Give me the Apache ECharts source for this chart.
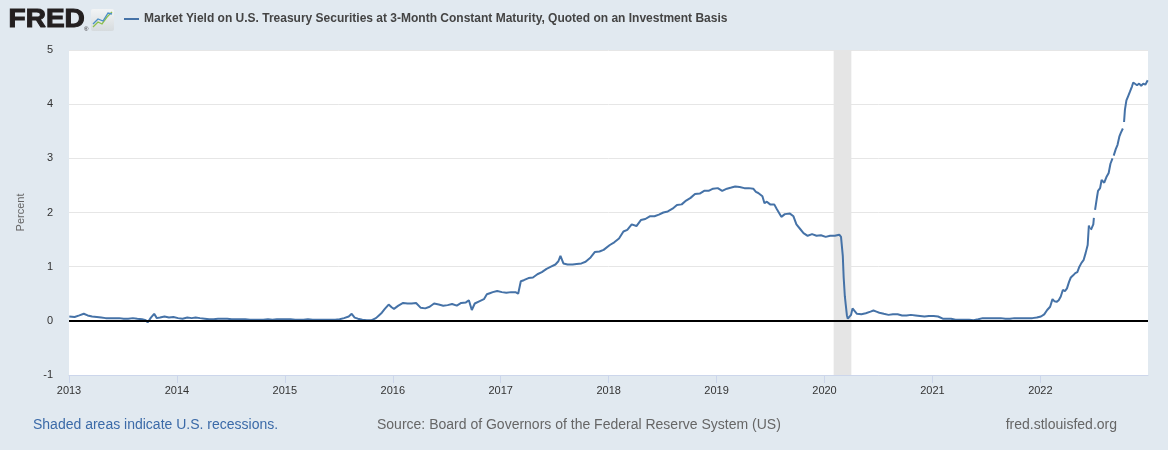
<!DOCTYPE html>
<html>
<head>
<meta charset="utf-8">
<script src="https://cdn.jsdelivr.net/npm/echarts@6/dist/echarts.min.js"></script>
<style>
html,body{margin:0;padding:0;background:#e1e9f0;}
#chart{width:1168px;height:450px;}
</style>
</head>
<body>
<div id="chart"></div>
<script>
// ---- data (date, percent) ----
const y2013 = [['2013-01-02',0.08],['2013-01-20',0.07],['2013-02-05',0.10],['2013-02-20',0.13],['2013-03-05',0.10],['2013-03-20',0.08],['2013-04-05',0.07],['2013-04-20',0.06],['2013-05-05',0.05],['2013-05-20',0.05],['2013-06-05',0.05],['2013-06-20',0.05],['2013-07-05',0.04],['2013-07-20',0.04],['2013-08-05',0.05],['2013-08-20',0.04],['2013-09-05',0.03],['2013-09-18',0.01],['2013-09-24',-0.03],['2013-10-05',0.06],['2013-10-16',0.13],['2013-10-25',0.05],['2013-11-05',0.06],['2013-11-20',0.08],['2013-12-05',0.06],['2013-12-20',0.07]];
const y2014 = [['2014-01-05',0.05],['2014-01-20',0.04],['2014-02-05',0.06],['2014-02-20',0.05],['2014-03-05',0.06],['2014-03-20',0.05],['2014-04-05',0.04],['2014-04-20',0.03],['2014-05-05',0.03],['2014-05-20',0.04],['2014-06-05',0.04],['2014-06-20',0.04],['2014-07-05',0.03],['2014-07-20',0.03],['2014-08-05',0.03],['2014-08-20',0.03],['2014-09-05',0.02],['2014-09-20',0.02],['2014-10-05',0.02],['2014-10-20',0.02],['2014-11-05',0.03],['2014-11-20',0.02],['2014-12-05',0.03],['2014-12-20',0.03]];
const y2015 = [['2015-01-05',0.03],['2015-01-20',0.03],['2015-02-05',0.02],['2015-02-20',0.02],['2015-03-05',0.02],['2015-03-20',0.03],['2015-04-05',0.02],['2015-04-20',0.02],['2015-05-05',0.02],['2015-05-20',0.02],['2015-06-05',0.02],['2015-06-20',0.02],['2015-07-05',0.03],['2015-07-20',0.05],['2015-08-05',0.08],['2015-08-15',0.13],['2015-08-25',0.06],['2015-09-05',0.04],['2015-09-20',0.02],['2015-10-05',0.01],['2015-10-20',0.01],['2015-11-05',0.05],['2015-11-15',0.10],['2015-11-25',0.15],['2015-12-05',0.22],['2015-12-18',0.30],['2015-12-28',0.25]];
const y2016 = [['2016-01-05',0.22],['2016-01-20',0.28],['2016-02-05',0.33],['2016-02-20',0.32],['2016-03-05',0.32],['2016-03-20',0.33],['2016-04-05',0.24],['2016-04-20',0.23],['2016-05-05',0.26],['2016-05-20',0.32],['2016-06-05',0.30],['2016-06-20',0.28],['2016-07-05',0.29],['2016-07-20',0.31],['2016-08-05',0.28],['2016-08-20',0.33],['2016-09-05',0.34],['2016-09-15',0.38],['2016-09-25',0.20],['2016-10-05',0.32],['2016-10-20',0.36],['2016-11-05',0.40],['2016-11-15',0.49],['2016-11-25',0.51],['2016-12-05',0.53],['2016-12-20',0.55]];
const y2017 = [['2017-01-05',0.53],['2017-01-20',0.52],['2017-02-05',0.53],['2017-02-20',0.53],['2017-03-01',0.50],['2017-03-10',0.73],['2017-03-20',0.75],['2017-04-05',0.79],['2017-04-20',0.80],['2017-05-05',0.86],['2017-05-20',0.90],['2017-06-05',0.96],['2017-06-20',1.00],['2017-07-05',1.04],['2017-07-15',1.10],['2017-07-22',1.20],['2017-08-01',1.06],['2017-08-15',1.04],['2017-09-01',1.04],['2017-09-15',1.05],['2017-10-01',1.06],['2017-10-15',1.09],['2017-11-01',1.17],['2017-11-15',1.27],['2017-12-01',1.28],['2017-12-15',1.31]];
const y2018 = [['2018-01-05',1.40],['2018-01-20',1.45],['2018-02-05',1.52],['2018-02-20',1.65],['2018-03-05',1.68],['2018-03-20',1.78],['2018-04-05',1.75],['2018-04-20',1.86],['2018-05-05',1.88],['2018-05-20',1.93],['2018-06-05',1.93],['2018-06-20',1.96],['2018-07-05',2.00],['2018-07-20',2.02],['2018-08-05',2.07],['2018-08-20',2.14],['2018-09-05',2.15],['2018-09-20',2.22],['2018-10-05',2.27],['2018-10-20',2.34],['2018-11-05',2.35],['2018-11-20',2.40],['2018-12-05',2.40],['2018-12-20',2.44]];
const y2019 = [['2019-01-05',2.45],['2019-01-20',2.40],['2019-02-05',2.44],['2019-02-20',2.46],['2019-03-05',2.48],['2019-03-20',2.47],['2019-04-05',2.45],['2019-04-20',2.45],['2019-05-05',2.44],['2019-05-14',2.38],['2019-05-22',2.36],['2019-06-05',2.30],['2019-06-12',2.17],['2019-06-20',2.20],['2019-07-01',2.15],['2019-07-15',2.15],['2019-07-24',2.06],['2019-08-08',1.92],['2019-08-20',1.97],['2019-09-06',1.98],['2019-09-18',1.93],['2019-09-28',1.78],['2019-10-10',1.70],['2019-10-22',1.62],['2019-11-05',1.57],['2019-11-20',1.60],['2019-12-05',1.57],['2019-12-20',1.58]];
const y2020 = [['2020-01-05',1.55],['2020-01-20',1.57],['2020-02-05',1.57],['2020-02-20',1.59],['2020-02-26',1.55],['2020-03-03',1.20],['2020-03-06',0.80],['2020-03-10',0.45],['2020-03-13',0.30],['2020-03-17',0.10],['2020-03-20',0.04],['2020-03-25',0.01],['2020-03-31',0.11],['2020-04-05',0.23],['2020-04-10',0.20],['2020-04-20',0.13],['2020-05-05',0.12],['2020-05-20',0.14],['2020-06-05',0.17],['2020-06-15',0.19],['2020-06-25',0.17],['2020-07-05',0.15],['2020-07-20',0.13],['2020-08-05',0.11],['2020-08-20',0.12],['2020-09-05',0.12],['2020-09-20',0.10],['2020-10-05',0.10],['2020-10-20',0.11],['2020-11-05',0.10],['2020-11-20',0.09],['2020-12-05',0.08],['2020-12-20',0.09]];
const y2021 = [['2021-01-05',0.09],['2021-01-20',0.08],['2021-02-05',0.04],['2021-02-20',0.04],['2021-03-05',0.04],['2021-03-20',0.02],['2021-04-05',0.02],['2021-04-20',0.02],['2021-05-05',0.02],['2021-05-20',0.01],['2021-06-05',0.03],['2021-06-20',0.05],['2021-07-05',0.05],['2021-07-20',0.05],['2021-08-05',0.05],['2021-08-20',0.05],['2021-09-05',0.04],['2021-09-20',0.04],['2021-10-05',0.05],['2021-10-20',0.05],['2021-11-05',0.05],['2021-11-20',0.05],['2021-12-05',0.05],['2021-12-20',0.06]];
const y2022 = [['2022-01-03',0.08],['2022-01-14',0.12],['2022-01-24',0.20],['2022-02-03',0.26],['2022-02-11',0.40],['2022-02-18',0.36],['2022-02-25',0.35],['2022-03-04',0.38],['2022-03-11',0.45],['2022-03-18',0.57],['2022-03-25',0.55],['2022-04-01',0.60],['2022-04-08',0.72],['2022-04-14',0.80],['2022-04-22',0.84],['2022-04-29',0.88],['2022-05-06',0.90],['2022-05-13',1.00],['2022-05-20',1.07],['2022-05-27',1.12],['2022-06-03',1.25],['2022-06-10',1.40],['2022-06-14',1.76],['2022-06-17',1.70],['2022-06-20',null],['2022-06-21',1.68],['2022-06-24',1.70],['2022-06-29',1.78],['2022-07-01',1.90],['2022-07-04',null],['2022-07-05',2.05],['2022-07-12',2.30],['2022-07-15',2.40],['2022-07-22',2.45],['2022-07-27',2.60],['2022-08-05',2.55],['2022-08-12',2.65],['2022-08-20',2.73],['2022-08-26',2.90],['2022-09-02',3.00],['2022-09-05',null],['2022-09-06',3.05],['2022-09-13',3.17],['2022-09-19',3.25],['2022-09-25',3.40],['2022-09-30',3.47],['2022-10-07',3.55],['2022-10-10',null],['2022-10-11',3.67],['2022-10-14',3.90],['2022-10-19',4.07],['2022-10-25',4.15],['2022-10-31',4.23],['2022-11-07',4.33],['2022-11-11',4.40],['2022-11-17',4.40],['2022-11-24',4.35],['2022-12-01',4.38],['2022-12-08',4.34],['2022-12-15',4.38],['2022-12-22',4.36],['2022-12-30',4.44]];
const recession = ['2020-02-01', '2020-04-01'];
const xRange = ['2013-01-01', '2022-12-31'];
const yTicks = { min: -1, max: 5, step: 1 };

const seriesTitle = 'Market Yield on U.S. Treasury Securities at 3-Month Constant Maturity, Quoted on an Investment Basis';

function toYear(s) {
  const p = s.split('-').map(Number);
  const a = Date.UTC(p[0], 0, 1), b = Date.UTC(p[0] + 1, 0, 1);
  return p[0] + (Date.UTC(p[0], p[1] - 1, p[2]) - a) / (b - a);
}
const all = [].concat(y2013, y2014, y2015, y2016, y2017, y2018, y2019, y2020, y2021, y2022);
const lineData = all.map(d => [toYear(d[0]), d[1] === null ? '-' : d[1]]);

const chart = echarts.init(document.getElementById('chart'), null, { renderer: 'canvas' });
const FONT = '"Liberation Sans", Arial, sans-serif';
chart.setOption({
  animation: false,
  backgroundColor: '#e1e9f0',
  grid: { left: 69, right: 20, top: 50, bottom: 75, show: true, backgroundColor: '#ffffff', borderWidth: 0 },
  xAxis: {
    type: 'value',
    min: toYear(xRange[0]), max: toYear(xRange[1]), interval: 1,
    axisLine: { show: true, onZero: false, lineStyle: { color: '#ccd6eb', width: 1 } },
    axisTick: { show: true, length: 8, lineStyle: { color: '#ccd6eb' } },
    splitLine: { show: false },
    axisLabel: {
      color: '#333', fontSize: 11, fontFamily: FONT, margin: 10, showMaxLabel: false,
      formatter: v => (Math.abs(v - Math.round(v)) < 1e-6 ? String(Math.round(v)) : '')
    }
  },
  yAxis: {
    type: 'value', min: yTicks.min, max: yTicks.max, interval: yTicks.step,
    name: 'Percent', nameLocation: 'middle', nameGap: 43, nameRotate: 90,
    nameTextStyle: { color: '#666', fontSize: 11, fontFamily: FONT },
    axisLine: { show: false }, axisTick: { show: false },
    splitLine: { lineStyle: { color: '#e6e6e6', width: 1 } },
    axisLabel: { color: '#333', fontSize: 11, fontFamily: FONT, margin: 16 }
  },
  series: [{
    type: 'line', data: lineData, showSymbol: false, connectNulls: false,
    lineStyle: { color: '#4572a7', width: 2 }, itemStyle: { color: '#4572a7' },
    z: 3,
    markArea: {
      silent: true,
      itemStyle: { color: '#e5e5e5' },
      data: [[{ xAxis: toYear(recession[0]) }, { xAxis: toYear(recession[1]) }]]
    },
    markLine: {
      silent: true, symbol: 'none', label: { show: false },
      lineStyle: { color: '#000', width: 2, type: 'solid' },
      data: [{ yAxis: 0 }]
    }
  }],
  graphic: [
    { type: 'text', left: 8, top: 7, scaleX: 1.12,
      style: { text: 'FRED', font: 'bold 25px "Liberation Sans", Arial, sans-serif', fill: '#231f20', stroke: '#231f20', lineWidth: 1 } },
    { type: 'text', left: 84, top: 26,
      style: { text: '®', font: '6px Arial, sans-serif', fill: '#231f20' } },
    { type: 'rect', shape: { x: 91, y: 9, width: 23, height: 22, r: 2 },
      style: { fill: new echarts.graphic.LinearGradient(0, 0, 0, 1, [{ offset: 0, color: '#f2f4f5' }, { offset: 1, color: '#d6dbde' }]) } },
    { type: 'polyline', shape: { points: [[93, 27], [98, 22], [102, 24], [107, 17], [112, 12]] },
      style: { stroke: '#8cc04b', lineWidth: 1.3, fill: null } },
    { type: 'polyline', shape: { points: [[93, 24], [98, 19], [103, 21], [108, 13], [112, 14]] },
      style: { stroke: '#4a8ec6', lineWidth: 1.3, fill: null } },
    { type: 'line', shape: { x1: 124, y1: 19, x2: 139, y2: 19 },
      style: { stroke: '#4572a7', lineWidth: 2 } },
    { type: 'text', left: 144, top: 13,
      style: { text: seriesTitle, font: 'bold 12px "Liberation Sans", Arial, sans-serif', fill: '#444' } },
    { type: 'text', left: 33, top: 418,
      style: { text: 'Shaded areas indicate U.S. recessions.', font: '14px "Liberation Sans", Arial, sans-serif', fill: '#3b6aa8' } },
    { type: 'text', left: 377, top: 418,
      style: { text: 'Source: Board of Governors of the Federal Reserve System (US)', font: '14px "Liberation Sans", Arial, sans-serif', fill: '#666' } },
    { type: 'text', right: 51, top: 418,
      style: { text: 'fred.stlouisfed.org', font: '14px "Liberation Sans", Arial, sans-serif', fill: '#666' } }
  ]
});
</script>
</body>
</html>
